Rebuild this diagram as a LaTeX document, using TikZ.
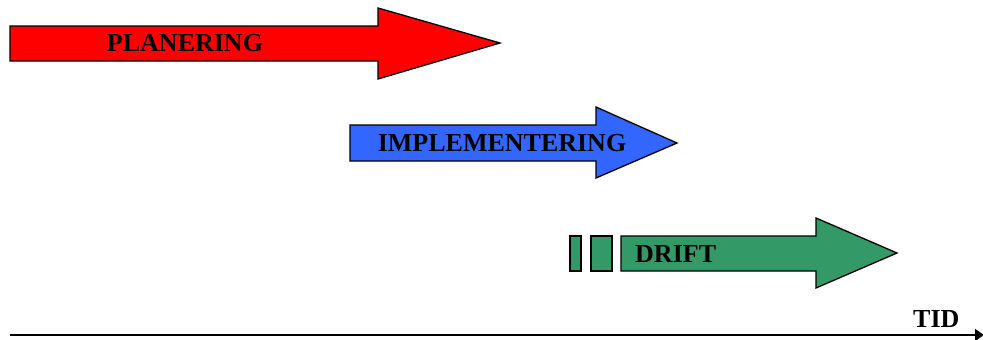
\documentclass[tikz,border=0pt]{standalone}
\usepackage{fontspec}
\setmainfont{Liberation Serif}
\usetikzlibrary{arrows.meta}
\definecolor{planred}{RGB}{255,0,0}
\definecolor{implblue}{RGB}{51,102,255}
\definecolor{driftgreen}{RGB}{51,153,102}
\begin{document}
\begin{tikzpicture}[x=1pt,y=-1pt,
  phase/.style={draw=black,line width=1.3pt,line join=miter},
  lbl/.style={font=\fontsize{26}{30}\selectfont\bfseries,inner sep=0pt,anchor=base}]
\useasboundingbox (0,0) rectangle (983,340);
% PLANERING
\draw[phase,fill=planred] (10,26) -- (378,26) -- (378,8) -- (500,43) -- (378,79) -- (378,61) -- (10,61) -- cycle;
\node[lbl] (plan) at (185,51.5) {PLANERING};
% IMPLEMENTERING
\draw[phase,fill=implblue] (350,125) -- (596,125) -- (596,107) -- (677,143) -- (596,178) -- (596,161) -- (350,161) -- cycle;
\node[lbl] (impl) at (502,151.5) {IMPLEMENTERING};
% DRIFT
\draw[phase,fill=driftgreen] (570,236) rectangle (581,271);
\draw[phase,fill=driftgreen] (591,236) rectangle (612,271);
\draw[phase,fill=driftgreen] (621,236) -- (816,236) -- (816,218) -- (897,253) -- (816,288) -- (816,271) -- (621,271) -- cycle;
\node[lbl,anchor=base west] (drift) at (635,262.5) {DRIFT};
% TID axis
\coordinate (t0) at (10,335);
\coordinate (t1) at (984,335);
\draw[line width=1.4pt,-{Triangle[length=9pt,width=12pt]}] (t0) -- (t1);
\node[lbl,anchor=base west] (tid) at (913,327.5) {TID};
\end{tikzpicture}
\end{document}
